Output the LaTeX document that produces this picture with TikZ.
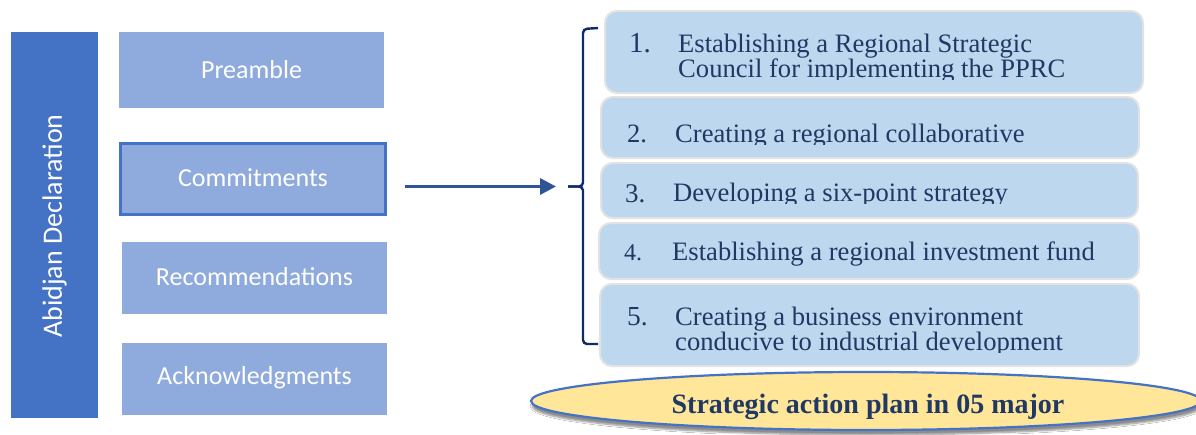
\documentclass[tikz,border=0pt]{standalone}
\usepackage{fontspec}
\setmainfont{Liberation Serif}
\newfontfamily\calib{Carlito}
\usetikzlibrary{arrows.meta,shapes.geometric,shadows.blur}
\definecolor{barblue}{HTML}{4472C4}
\definecolor{boxblue}{HTML}{8FAADC}
\definecolor{itemfill}{HTML}{BDD7EE}
\definecolor{itemedge}{HTML}{E2E2E2}
\definecolor{navytext}{HTML}{1F3864}
\definecolor{bracenavy}{HTML}{102A6E}
\definecolor{arrowblue}{HTML}{2F5597}
\definecolor{planfill}{HTML}{FFE699}
\tikzset{
  sidebox/.style={fill=boxblue, draw=none},
  sidelabel/.style={text=white, font=\calib\fontsize{26}{30}\selectfont},
  itembox/.style={fill=itemfill, draw=itemedge, line width=2pt, rounded corners=12pt},
  itemnum/.style={anchor=base west, inner sep=0pt, text=navytext},
  itemtext/.style={anchor=base west, inner sep=0pt, text=navytext,
    font=\fontsize{26.6}{25}\selectfont},
  bracestroke/.style={draw=bracenavy, line width=2.4pt, rounded corners=4pt},
}
\begin{document}
\begin{tikzpicture}[x=1pt,y=-1pt]
\useasboundingbox (0,0) rectangle (1196,434);
\clip (0,0) rectangle (1196,434);
\fill[white] (0,0) rectangle (1196,434);

% left column
\fill[barblue] (11,32) rectangle (98,418);
\node[sidelabel, font=\calib\fontsize{28}{30}\selectfont, rotate=90] (title) at (54.5,226) {Abidjan Declaration};

\path[sidebox] (119,32) rectangle (384,108);
\node[sidelabel] (pre) at (251.5,70) {Preamble};

\path[sidebox] (119,142) rectangle (387,216);
\draw[barblue, line width=3pt] (120.5,143.5) rectangle (385.5,214.5);
\node[sidelabel] (com) at (253,178) {Commitments};

\path[sidebox] (122,242) rectangle (387,314);
\node[sidelabel] (rec) at (254.5,277) {Recommendations};

\path[sidebox] (122,343) rectangle (387,415);
\node[sidelabel] (ack) at (254.5,378) {Acknowledgments};

% arrow into the brace
\coordinate (arrstart) at (405,186.5);
\coordinate (bracetip) at (568,186.5);
\draw[arrowblue, line width=3.4pt, -{Triangle[length=16pt,width=16pt]}, shorten >=12pt] (arrstart) -- (bracetip);

% brace
\draw[bracestroke] (598,28) -- (583,29) -- (583,186.5) -- (bracetip);
\draw[bracestroke] (bracetip) -- (583,186.5) -- (583,344) -- (598,344);

% numbered items
\draw[itembox] (605,11) rectangle (1143,93);
\draw[itembox] (601,97) rectangle (1139,158);
\draw[itembox] (601,163) rectangle (1138,218);
\draw[itembox] (599,223) rectangle (1139,279);
\draw[itembox] (600,284) rectangle (1139,366);

\node[itemnum, font=\fontsize{29}{30}\selectfont] (n1) at (629,52) {1.};
\begin{scope}
  \clip (660,20) rectangle (1130,79);
  \node[itemtext] (t1a) at (678,52) {Establishing a Regional Strategic};
  \node[itemtext] (t1b) at (678,77) {Council for implementing the PPRC};
\end{scope}

\node[itemnum, font=\fontsize{26.5}{30}\selectfont] (n2) at (627,142) {2.};
\begin{scope}
  \clip (660,110) rectangle (1130,144.5);
  \node[itemtext] (t2) at (675,142) {Creating a regional collaborative};
\end{scope}

\node[itemnum, font=\fontsize{27}{30}\selectfont] (n3) at (625,202) {3.};
\begin{scope}
  \clip (660,170) rectangle (1130,203.5);
  \node[itemtext] (t3) at (673,201) {Developing a six-point strategy};
\end{scope}

\node[itemnum, font=\fontsize{24}{30}\selectfont] (n4) at (624,260) {4.};
\node[itemtext] (t4) at (672,260) {Establishing a regional investment fund};

\node[itemnum, font=\fontsize{27.5}{30}\selectfont] (n5) at (627,325) {5.};
\begin{scope}
  \clip (660,295) rectangle (1130,352.5);
  \node[itemtext] (t5a) at (675,325) {Creating a business environment};
  \node[itemtext] (t5b) at (675,350) {conducive to industrial development};
\end{scope}

% summary ellipse
\node[ellipse, draw=barblue, line width=2.2pt, fill=planfill, minimum width=670pt, minimum height=58pt,
  blur shadow={shadow xshift=1pt, shadow yshift=-5pt, shadow blur steps=6, shadow opacity=45}] (plan) at (866,401) {};
\node[anchor=base, inner sep=0pt, text=navytext, font=\bfseries\fontsize{28}{30}\selectfont] (plantext) at (868,413) {Strategic action plan in 05 major};
\end{tikzpicture}
\end{document}
